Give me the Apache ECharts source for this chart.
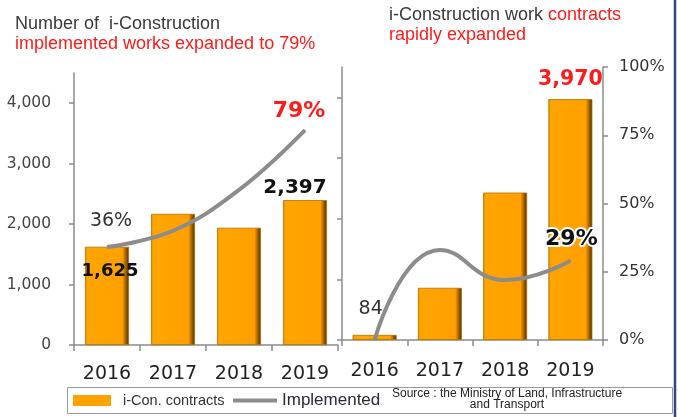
<!DOCTYPE html>
<html>
<head>
<meta charset="utf-8">
<script src="https://cdn.jsdelivr.net/npm/echarts@6/dist/echarts.min.js"></script>
<style>
  html, body { margin: 0; padding: 0; background: #fff; }
  #main { width: 678px; height: 417px; }
</style>
</head>
<body>
<div id="main"></div>
<script>
// values
var years = ['2016', '2017', '2018', '2019'];
var worksCount = [1625, 2170, 1940, 2397];      // left panel bars
var worksRate = [36, 42, 57, 79];               // left panel line (%)
var contractCount = [84, 860, 2430, 3970];      // right panel bars
var contractRate = [0, 33, 22, 29];             // right panel line (%)
var countTicks = [0, 1000, 2000, 3000, 4000];
var rateTicks = [0, 25, 50, 75, 100];

var chart = echarts.init(document.getElementById('main'));

var NUM_FONT = '"DejaVu Sans", Verdana, sans-serif';
var TXT_FONT = '"Liberation Sans", Arial, sans-serif';
var RED = '#ff1a1a';
var ORANGE = '#ffa200';
var LINE_GRAY = '#8c8c8c';

var barColor = new echarts.graphic.LinearGradient(0, 0, 1, 0, [
    { offset: 0, color: '#e39200' },
    { offset: 0.06, color: '#ffa500' },
    { offset: 0.85, color: '#ffa000' },
    { offset: 0.92, color: '#a86600' },
    { offset: 1, color: '#4a3000' }
]);

function lbl(show, opts) {
    if (!show) return { show: false };
    return Object.assign({ show: true, fontFamily: NUM_FONT }, opts);
}

// per point label styles
var worksCountLabels = [
    lbl(true, { position: 'insideTop', offset: [3, 11], fontSize: 18, fontWeight: 'bold', color: '#111', formatter: '1,625' }),
    lbl(false), lbl(false),
    lbl(true, { position: 'top', offset: [-10, 3], fontSize: 20, fontWeight: 'bold', color: '#111', formatter: '2,397' })
];
var worksRateLabels = [
    lbl(true, { position: 'top', distance: 16, offset: [4, 0], fontSize: 19, color: '#333', formatter: '{c}%' }),
    lbl(false), lbl(false),
    lbl(true, { position: 'top', distance: 7, offset: [-6, 0], fontSize: 22, fontWeight: 'bold', color: RED, formatter: '{c}%' })
];
var contractCountLabels = [
    lbl(true, { position: 'top', distance: 16, offset: [-4, 0], fontSize: 19, color: '#333', formatter: '{c}' }),
    lbl(false), lbl(false),
    lbl(true, { position: 'top', distance: 9, fontSize: 20.5, fontWeight: 'bold', color: RED, formatter: '3,970' })
];
var contractRateLabels = [
    lbl(false), lbl(false), lbl(false),
    lbl(true, { position: 'top', distance: 10, offset: [1, 0], fontSize: 22, fontWeight: 'bold', color: '#111',
        textBorderColor: '#fff', textBorderWidth: 4, formatter: '{c}%' })
];

function withLabels(values, labels) {
    return values.map(function (v, i) { return { value: v, label: labels[i] }; });
}

var axisLineStyle = { color: '#8c8c8c', width: 1.5 };
var titleRich = {
    a: { fontFamily: TXT_FONT, fontSize: 18, fontWeight: 'normal', color: '#3a3a3a', lineHeight: 20 },
    b: { fontFamily: TXT_FONT, fontSize: 18, fontWeight: 'normal', color: RED, lineHeight: 20 }
};

var option = {
    animation: false,
    backgroundColor: '#fff',
    title: [{
        left: 10, top: 9,
        text: '{a|Number of  i-Construction}\n{b|implemented works expanded to 79%}',
        textStyle: { fontWeight: 'normal', rich: titleRich }
    }, {
        left: 384, top: 0,
        text: '{a|i-Construction work }{b|contracts}\n{b|rapidly expanded}',
        textStyle: { fontWeight: 'normal', rich: titleRich }
    }],
    grid: [
        { left: 74, right: 340, top: 73, bottom: 72 },
        { left: 342, right: 75, top: 67, bottom: 77 }
    ],
    xAxis: [0, 1].map(function (g) {
        return {
            type: 'category', gridIndex: g, data: years,
            axisLine: { lineStyle: axisLineStyle },
            axisTick: { show: true, length: 6, lineStyle: axisLineStyle },
            axisLabel: { fontFamily: NUM_FONT, fontSize: 19, color: '#222', margin: g === 0 ? 20 : 22 }
        };
    }),
    yAxis: [{
        type: 'value', gridIndex: 0, min: 0, max: 4500, interval: 1000,
        splitLine: { show: false },
        axisLine: { show: true, lineStyle: axisLineStyle },
        axisTick: { show: true, length: 5, customValues: countTicks, lineStyle: axisLineStyle },
        axisLabel: {
            customValues: countTicks, margin: 23, fontFamily: NUM_FONT, fontSize: 15.5, color: '#444',
            formatter: function (v) { return v === 4500 ? '' : echarts.format.addCommas(v); }
        }
    }, {
        type: 'value', gridIndex: 0, min: 0, max: 100, show: false, splitLine: { show: false }
    }, {
        type: 'value', gridIndex: 1, min: 0, max: 4500, interval: 1000,
        splitLine: { show: false },
        axisLine: { show: true, lineStyle: axisLineStyle },
        axisTick: { show: true, length: 5, customValues: countTicks, lineStyle: axisLineStyle },
        axisLabel: { show: false }
    }, {
        type: 'value', gridIndex: 1, position: 'right', min: 0, max: 100, interval: 25,
        splitLine: { show: false },
        axisLine: { show: true, lineStyle: axisLineStyle },
        axisTick: { show: true, length: 5, customValues: rateTicks, lineStyle: axisLineStyle },
        axisLabel: { margin: 16, fontFamily: NUM_FONT, fontSize: 16, color: '#333', formatter: '{value}%' }
    }],
    legend: [{
        left: 73, top: 393, padding: 0, itemWidth: 38, itemHeight: 11, icon: 'rect',
        data: [{ name: 'i-Con. contracts', itemStyle: { color: ORANGE, borderWidth: 0 }, textStyle: { padding: [0, 0, 0, 7] } }],
        textStyle: { fontFamily: TXT_FONT, fontSize: 14.5, color: '#333' }
    }, {
        left: 233, top: 392, padding: 0, itemWidth: 44, itemHeight: 4, icon: 'rect',
        data: [{ name: 'Implemented', itemStyle: { color: LINE_GRAY } }],
        textStyle: { fontFamily: TXT_FONT, fontSize: 17, color: '#2a2a3a' }
    }],
    graphic: [{
        type: 'rect', shape: { x: 67.5, y: 387.5, width: 605, height: 26 },
        style: { fill: 'none', stroke: '#9a9a9a', lineWidth: 1 }
    }, {
        type: 'text', x: 507, y: 388,
        style: {
            text: 'Source : the Ministry of Land, Infrastructure\nand Transport',
            fontFamily: TXT_FONT, fontSize: 12, lineHeight: 11, fill: '#222', align: 'center'
        }
    }, {
        type: 'line', shape: { x1: 675, y1: 0, x2: 675, y2: 417 },
        style: { stroke: '#2d4a7c', lineWidth: 2.5 }
    }],
    series: [{
        name: 'i-Con. contracts', type: 'bar', xAxisIndex: 0, yAxisIndex: 0,
        barWidth: 44, itemStyle: { color: barColor, borderColor: '#b07000', borderWidth: 0.8 },
        data: withLabels(worksCount, worksCountLabels), z: 2
    }, {
        name: 'Implemented', type: 'line', xAxisIndex: 0, yAxisIndex: 1,
        smooth: 0.4, symbol: 'circle', symbolSize: 1, lineStyle: { color: LINE_GRAY, width: 4 }, itemStyle: { color: LINE_GRAY },
        data: withLabels(worksRate, worksRateLabels), z: 3
    }, {
        name: 'i-Con. contracts', type: 'bar', xAxisIndex: 1, yAxisIndex: 2,
        barWidth: 44, itemStyle: { color: barColor, borderColor: '#b07000', borderWidth: 0.8 },
        data: withLabels(contractCount, contractCountLabels), z: 2
    }, {
        name: 'Implemented', type: 'line', xAxisIndex: 1, yAxisIndex: 3,
        smooth: 0.5, symbol: 'circle', symbolSize: 1, lineStyle: { color: LINE_GRAY, width: 4 }, itemStyle: { color: LINE_GRAY },
        data: withLabels(contractRate, contractRateLabels), z: 3
    }]
};

chart.setOption(option);
</script>
</body>
</html>
